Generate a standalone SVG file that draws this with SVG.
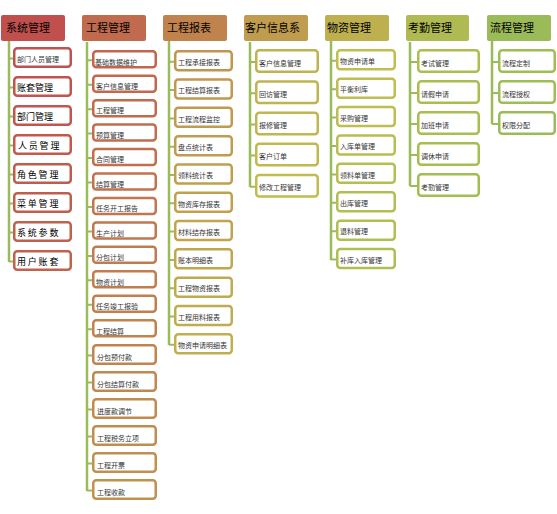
<svg xmlns="http://www.w3.org/2000/svg" width="557" height="514" viewBox="0 0 557 514">
<style>
.hdr{stroke:none}
.htx{font-family:"Noto Sans CJK SC","Liberation Sans",sans-serif;font-size:11px;fill:#000}
.box{fill:#fff;stroke-width:2.5}
.ctx{font-family:"Noto Sans CJK SC","Liberation Sans",sans-serif;font-size:7px;fill:#333}
.big{font-size:9px;fill:#000}
.wide{letter-spacing:1.8px}
.conn{fill:none;stroke:#9BBB59;stroke-width:2.5}
.tick{fill:none;stroke:#9BBB59;stroke-width:2}
</style>
<rect width="557" height="514" fill="#fff"/>
<g id="connectors">
<path class="conn" d="M9 41V262M87 42V491M169 41V345M250 42V187M331 41V260M410 42V186M492 41V124"/>
<path class="tick" d="M9 58.5H14M9 87.5H14M9 116.5H14M9 145.5H14M9 174.5H14M9 203.5H14M9 232.5H14M9 261.5H14"/>
<path class="tick" d="M87 60.3H93M87 84.7H93M87 109.2H93M87 133.6H93M87 158H93M87 182.5H93M87 207H93M87 231.4H93M87 255.9H93M87 280.3H93M87 304.8H93M87 329.2H93M87 355.5H93M87 382.5H93M87 409.5H93M87 436.5H93M87 463.5H93M87 490.5H93"/>
<path class="tick" d="M169 61.8H175M169 90H175M169 118.4H175M169 146.7H175M169 175H175M169 203.3H175M169 231.6H175M169 259.9H175M169 288.2H175M169 316.5H175M169 344.8H175"/>
<path class="tick" d="M250 62H256M250 93.2H256M250 124.4H256M250 155.6H256M250 186.8H256"/>
<path class="tick" d="M331 60.8H337M331 89.2H337M331 117.6H337M331 146H337M331 174.4H337M331 202.8H337M331 231.2H337M331 259.6H337"/>
<path class="tick" d="M410 62H418M410 93H418M410 124H418M410 155H418M410 186H418"/>
<path class="tick" d="M492 62H499M492 93H499M492 124H499"/>
</g>
<g id="h1"><rect class="hdr" x="1" y="15" width="64" height="26" rx="2" fill="#C0504D"/><text class="htx" x="6" y="32">系统管理</text></g>
<g id="h2"><rect class="hdr" x="82" y="15" width="64" height="26" rx="2" fill="#C06A4E"/><text class="htx" x="86" y="32">工程管理</text></g>
<g id="h3"><rect class="hdr" x="163" y="15" width="64" height="26" rx="2" fill="#C0834E"/><text class="htx" x="167" y="32">工程报表</text></g>
<g id="h4"><rect class="hdr" x="244" y="15" width="64" height="26" rx="2" fill="#C09C4E"/><text class="htx" x="245" y="32">客户信息系</text></g>
<g id="h5"><rect class="hdr" x="325" y="15" width="64" height="26" rx="2" fill="#BEB04F"/><text class="htx" x="327" y="32">物资管理</text></g>
<g id="h6"><rect class="hdr" x="406" y="15" width="63" height="26" rx="2" fill="#B0BA52"/><text class="htx" x="408" y="32">考勤管理</text></g>
<g id="h7"><rect class="hdr" x="487" y="15" width="64" height="26" rx="2" fill="#9BBB59"/><text class="htx" x="490" y="32">流程管理</text></g>

<g id="c1_1"><rect class="box" x="14.25" y="48.25" width="56.5" height="18.5" rx="3" stroke="#C0514E"/><text class="ctx" x="17" y="62" fill="#555">部门人员管理</text></g>
<g id="c1_2"><rect class="box" x="14.25" y="77.25" width="56.5" height="18.5" rx="3" stroke="#C0544E"/><text class="ctx big" x="17" y="91">账套管理</text></g>
<g id="c1_3"><rect class="box" x="14.25" y="106.25" width="56.5" height="18.5" rx="3" stroke="#C0564E"/><text class="ctx big" x="17" y="120">部门管理</text></g>
<g id="c1_4"><rect class="box" x="14.25" y="135.25" width="56.5" height="18.5" rx="3" stroke="#C0594E"/><text class="ctx big wide" x="18" y="149">人员管理</text></g>
<g id="c1_5"><rect class="box" x="14.25" y="164.25" width="56.5" height="18.5" rx="3" stroke="#C05B4E"/><text class="ctx big wide" x="17" y="178">角色管理</text></g>
<g id="c1_6"><rect class="box" x="14.25" y="193.25" width="56.5" height="18.5" rx="3" stroke="#C05E4E"/><text class="ctx big wide" x="17" y="207">菜单管理</text></g>
<g id="c1_7"><rect class="box" x="14.25" y="222.25" width="56.5" height="18.5" rx="3" stroke="#C0614E"/><text class="ctx big wide" x="17" y="236">系统参数</text></g>
<g id="c1_8"><rect class="box" x="14.25" y="251.25" width="56.5" height="18.5" rx="3" stroke="#C0634E"/><text class="ctx big wide" x="17" y="265">用户账套</text></g>

<g id="c2_1"><rect class="box" x="93.25" y="51.25" width="62.5" height="16" rx="3" stroke="#C0664E"/><text class="ctx" x="95" y="64.5">基础数据维护</text></g>
<g id="c2_2"><rect class="box" x="93.25" y="75.7" width="62.5" height="16" rx="3" stroke="#C0694E"/><text class="ctx" x="96" y="89">客户信息管理</text></g>
<g id="c2_3"><rect class="box" x="93.25" y="100.15" width="62.5" height="16" rx="3" stroke="#C06B4E"/><text class="ctx" x="96" y="113.4">工程管理</text></g>
<g id="c2_4"><rect class="box" x="93.25" y="124.6" width="62.5" height="16" rx="3" stroke="#C06E4E"/><text class="ctx" x="96" y="137.9">预算管理</text></g>
<g id="c2_5"><rect class="box" x="93.25" y="149.05" width="62.5" height="16" rx="3" stroke="#C0704E"/><text class="ctx" x="96" y="162.3">合同管理</text></g>
<g id="c2_6"><rect class="box" x="93.25" y="173.5" width="62.5" height="16" rx="3" stroke="#C0734E"/><text class="ctx" x="96" y="186.8">结算管理</text></g>
<g id="c2_7"><rect class="box" x="93.25" y="197.95" width="62.5" height="16" rx="3" stroke="#C0764E"/><text class="ctx" x="96" y="211.2">任务开工报告</text></g>
<g id="c2_8"><rect class="box" x="93.25" y="222.4" width="62.5" height="16" rx="3" stroke="#C0784E"/><text class="ctx" x="96" y="235.7">生产计划</text></g>
<g id="c2_9"><rect class="box" x="93.25" y="246.85" width="62.5" height="16" rx="3" stroke="#C07B4E"/><text class="ctx" x="96" y="260.1">分包计划</text></g>
<g id="c2_10"><rect class="box" x="93.25" y="271.3" width="62.5" height="16" rx="3" stroke="#C07D4E"/><text class="ctx" x="96" y="284.6">物资计划</text></g>
<g id="c2_11"><rect class="box" x="93.25" y="295.75" width="62.5" height="16" rx="3" stroke="#C0804E"/><text class="ctx" x="96" y="309">任务竣工报验</text></g>
<g id="c2_12"><rect class="box" x="93.25" y="320.2" width="62.5" height="16" rx="3" stroke="#C0834E"/><text class="ctx" x="96" y="333.5">工程结算</text></g>
<g id="c2_13"><rect class="box" x="93.25" y="345.25" width="62.5" height="18.5" rx="3" stroke="#C0854E"/><text class="ctx" x="97" y="359.5">分包预付款</text></g>
<g id="c2_14"><rect class="box" x="93.25" y="372.25" width="62.5" height="18.5" rx="3" stroke="#C0884E"/><text class="ctx" x="97" y="386.5">分包结算付款</text></g>
<g id="c2_15"><rect class="box" x="93.25" y="399.25" width="62.5" height="18.5" rx="3" stroke="#C08B4E"/><text class="ctx" x="97" y="413.5">进度款调节</text></g>
<g id="c2_16"><rect class="box" x="93.25" y="426.25" width="62.5" height="18.5" rx="3" stroke="#C08D4E"/><text class="ctx" x="97" y="440.5">工程税务立项</text></g>
<g id="c2_17"><rect class="box" x="93.25" y="453.25" width="62.5" height="18.5" rx="3" stroke="#C0904E"/><text class="ctx" x="97" y="467.5">工程开票</text></g>
<g id="c2_18"><rect class="box" x="93.25" y="480.25" width="62.5" height="18.5" rx="3" stroke="#C0924E"/><text class="ctx" x="97" y="494.5">工程收款</text></g>

<g id="c3_1"><rect class="box" x="175.25" y="51.25" width="56.5" height="19" rx="3" stroke="#C0954E"/><text class="ctx" x="178" y="65">工程承接报表</text></g>
<g id="c3_2"><rect class="box" x="175.25" y="79.55" width="56.5" height="19" rx="3" stroke="#C0984E"/><text class="ctx" x="178" y="93.3">工程结算报表</text></g>
<g id="c3_3"><rect class="box" x="175.25" y="107.85" width="56.5" height="19" rx="3" stroke="#C09A4E"/><text class="ctx" x="178" y="121.6">工程流程监控</text></g>
<g id="c3_4"><rect class="box" x="175.25" y="136.15" width="56.5" height="19" rx="3" stroke="#C09D4E"/><text class="ctx" x="178" y="149.9">盘点统计表</text></g>
<g id="c3_5"><rect class="box" x="175.25" y="164.45" width="56.5" height="19" rx="3" stroke="#C09F4E"/><text class="ctx" x="178" y="178.2">领料统计表</text></g>
<g id="c3_6"><rect class="box" x="175.25" y="192.75" width="56.5" height="19" rx="3" stroke="#C0A24E"/><text class="ctx" x="178" y="206.5">物资库存报表</text></g>
<g id="c3_7"><rect class="box" x="175.25" y="221.05" width="56.5" height="19" rx="3" stroke="#C0A54E"/><text class="ctx" x="178" y="234.8">材料结存报表</text></g>
<g id="c3_8"><rect class="box" x="175.25" y="249.35" width="56.5" height="19" rx="3" stroke="#C0A74E"/><text class="ctx" x="178" y="263.1">账本明细表</text></g>
<g id="c3_9"><rect class="box" x="175.25" y="277.65" width="56.5" height="19" rx="3" stroke="#C0AA4E"/><text class="ctx" x="178" y="291.4">工程物资报表</text></g>
<g id="c3_10"><rect class="box" x="175.25" y="305.95" width="56.5" height="19" rx="3" stroke="#C0AC4E"/><text class="ctx" x="178" y="319.7">工程用料报表</text></g>
<g id="c3_11"><rect class="box" x="175.25" y="334.25" width="56.5" height="19" rx="3" stroke="#C0AF4E"/><text class="ctx" x="178" y="348">物资申请明细表</text></g>

<g id="c4_1"><rect class="box" x="256.25" y="50.25" width="61.5" height="21.5" rx="3" stroke="#C0B24E"/><text class="ctx" x="259" y="65.5">客户信息管理</text></g>
<g id="c4_2"><rect class="box" x="256.25" y="81.45" width="61.5" height="21.5" rx="3" stroke="#C0B44E"/><text class="ctx" x="259" y="96.7">回访管理</text></g>
<g id="c4_3"><rect class="box" x="256.25" y="112.65" width="61.5" height="21.5" rx="3" stroke="#C0B74E"/><text class="ctx" x="259" y="127.9">报修管理</text></g>
<g id="c4_4"><rect class="box" x="256.25" y="143.85" width="61.5" height="21.5" rx="3" stroke="#C0BA4E"/><text class="ctx" x="259" y="159.1">客户订单</text></g>
<g id="c4_5"><rect class="box" x="256.25" y="175.05" width="61.5" height="21.5" rx="3" stroke="#C0BC4E"/><text class="ctx" x="259" y="190.3">修改工程管理</text></g>

<g id="c5_1"><rect class="box" x="337.25" y="50.25" width="57.5" height="19" rx="3" stroke="#C0BF4E"/><text class="ctx" x="340" y="64">物资申请单</text></g>
<g id="c5_2"><rect class="box" x="337.25" y="78.65" width="57.5" height="19" rx="3" stroke="#BFBE50"/><text class="ctx" x="340" y="92.4">平衡利库</text></g>
<g id="c5_3"><rect class="box" x="337.25" y="107.05" width="57.5" height="19" rx="3" stroke="#BCBE50"/><text class="ctx" x="340" y="120.8">采购管理</text></g>
<g id="c5_4"><rect class="box" x="337.25" y="135.45" width="57.5" height="19" rx="3" stroke="#B9BE50"/><text class="ctx" x="340" y="149.2">入库单管理</text></g>
<g id="c5_5"><rect class="box" x="337.25" y="163.85" width="57.5" height="19" rx="3" stroke="#B7BE50"/><text class="ctx" x="340" y="177.6">领料单管理</text></g>
<g id="c5_6"><rect class="box" x="337.25" y="192.25" width="57.5" height="19" rx="3" stroke="#B4BE50"/><text class="ctx" x="340" y="206">出库管理</text></g>
<g id="c5_7"><rect class="box" x="337.25" y="220.65" width="57.5" height="19" rx="3" stroke="#B2BE50"/><text class="ctx" x="340" y="234.4">退料管理</text></g>
<g id="c5_8"><rect class="box" x="337.25" y="249.05" width="57.5" height="19" rx="3" stroke="#AFBE50"/><text class="ctx" x="340" y="262.8">补库入库管理</text></g>

<g id="c6_1"><rect class="box" x="418.25" y="50.25" width="60.5" height="21.5" rx="3" stroke="#ACBE50"/><text class="ctx" x="421" y="65.5">考试管理</text></g>
<g id="c6_2"><rect class="box" x="418.25" y="81.25" width="60.5" height="21.5" rx="3" stroke="#AABE50"/><text class="ctx" x="421" y="96.5">请假申请</text></g>
<g id="c6_3"><rect class="box" x="418.25" y="112.25" width="60.5" height="21.5" rx="3" stroke="#A7BE50"/><text class="ctx" x="421" y="127.5">加班申请</text></g>
<g id="c6_4"><rect class="box" x="418.25" y="143.25" width="60.5" height="21.5" rx="3" stroke="#A5BE50"/><text class="ctx" x="421" y="158.5">调休申请</text></g>
<g id="c6_5"><rect class="box" x="418.25" y="174.25" width="60.5" height="21.5" rx="3" stroke="#A2BE50"/><text class="ctx" x="421" y="189.5">考勤管理</text></g>

<g id="c7_1"><rect class="box" x="499.25" y="50.25" width="55.5" height="21.5" rx="3" stroke="#9FBE52"/><text class="ctx" x="502" y="65.5">流程定制</text></g>
<g id="c7_2"><rect class="box" x="499.25" y="81.25" width="55.5" height="21.5" rx="3" stroke="#9DBD55"/><text class="ctx" x="502" y="96.5">流程授权</text></g>
<g id="c7_3"><rect class="box" x="499.25" y="112.25" width="55.5" height="21.5" rx="3" stroke="#9BBB59"/><text class="ctx" x="502" y="127.5">权限分配</text></g>
</svg>
